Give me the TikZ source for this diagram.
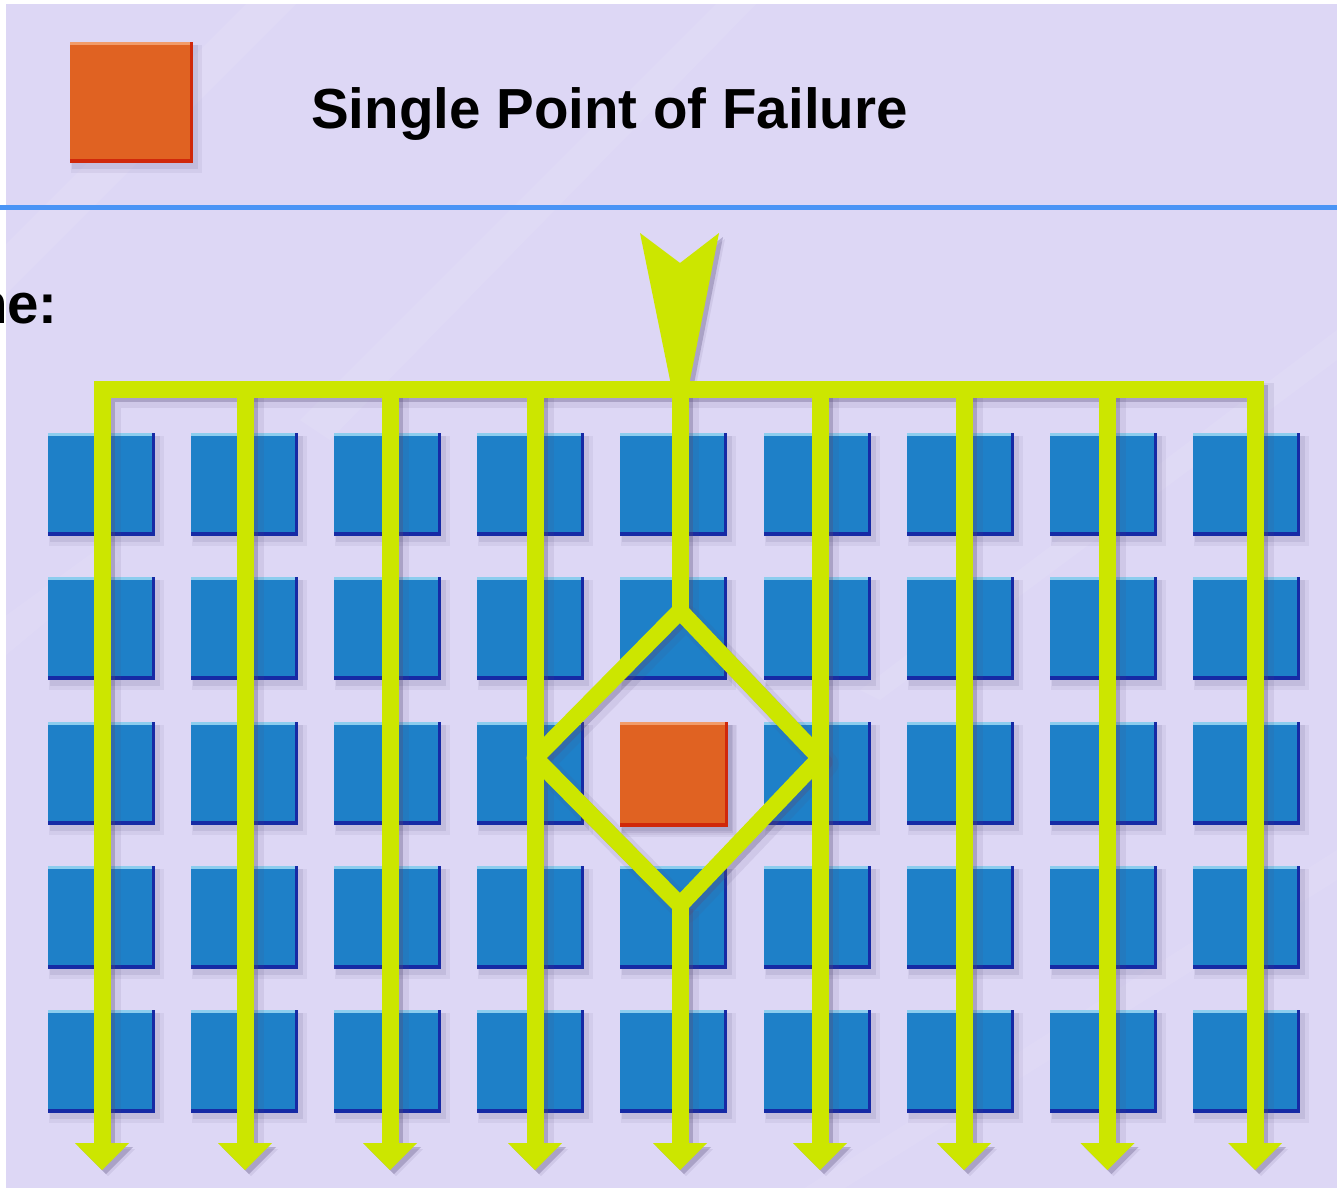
\documentclass[tikz,border=0pt]{standalone}
\usepackage{fontspec}
\setmainfont{Liberation Sans}
\definecolor{bgc}{RGB}{221,215,245}
\definecolor{ruleblue}{RGB}{74,148,245}
\definecolor{sqblue}{RGB}{30,128,200}
\definecolor{sqlight}{RGB}{140,205,238}
\definecolor{sqdark}{RGB}{22,42,165}
\definecolor{orng}{RGB}{224,98,34}
\definecolor{orlight}{RGB}{242,155,105}
\definecolor{ordark}{RGB}{208,40,10}
\definecolor{lime}{RGB}{204,230,0}
\definecolor{shadowc}{RGB}{85,75,120}
\tikzset{
  pics/tile/.style n args={5}{code={
    \fill[shadowc,opacity=0.08] (1,3) rectangle (#4+9,#5+10);
    \fill[shadowc,opacity=0.12] (2,3) rectangle (#4+5,#5+6);
    \fill[#3] (0,0) rectangle (#4,#5);
    \fill[#1] (0,0) rectangle (#4-3,#5-4);
    \fill[#2] (0,0) rectangle (#4-3,2.5);
  }},
  wire/.style={draw=lime,line width=17,line join=round},
  wirefill/.style={fill=lime},
  wshadow/.style={draw=shadowc,opacity=0.3,line width=17,line join=round},
  wshadowfill/.style={fill=shadowc,opacity=0.3},
  wblur/.style={draw=shadowc,opacity=0.1,line width=25,line join=round},
  wblurfill/.style={fill=shadowc,opacity=0.1},
  bigtext/.style={font=\fontsize{56.5}{60}\selectfont\bfseries,inner sep=0pt,text=black},
}
\newcommand\wirenet[2]{%
  \draw[#1,line join=miter] (B1) -- (T1) -- (T9) -- (B9);
  \foreach \k in {2,3,4,6,7,8} {\draw[#1] (T\k) -- (B\k);}
  \draw[#1] (T5) -- (Dt);
  \draw[#1] (Dt) -- (Dl) -- (Db) -- (Dr) -- cycle;
  \draw[#1] (Db) -- (B5);
  \foreach \k in {1,...,9} {\fill[#2] ([xshift=-27pt]B\k) -- ([xshift=27pt]B\k) -- (P\k) -- cycle;}
  \fill[#2] (A1) -- (An) -- (A2) -- (Ar) -- (Al) -- cycle;
}
\begin{document}
\begin{tikzpicture}[x=1pt,y=-1pt]
\useasboundingbox (0,0) rectangle (1337,1191);
\fill[bgc] (0,0) rectangle (1337,1191);
% faint diagonal streaks of the background
\begin{scope}
  \clip (0,0) rectangle (1337,1191);
  \fill[white,opacity=0.09] (0,250) -- (0,300) -- (300,0) -- (250,0) -- cycle;
  \fill[white,opacity=0.08] (300,420) -- (330,440) -- (760,0) -- (720,0) -- cycle;
  \fill[white,opacity=0.08] (1337,330) -- (1337,360) -- (880,700) -- (860,690) -- cycle;
  \fill[white,opacity=0.07] (800,1191) -- (840,1191) -- (1337,880) -- (1337,850) -- cycle;
  \fill[white,opacity=0.07] (0,620) -- (0,660) -- (120,560) -- (110,540) -- cycle;
\end{scope}
% white page edges
\fill[white] (0,0) rectangle (6,1191);
\fill[white] (0,0) rectangle (1337,4);
\fill[white] (0,1188) rectangle (1337,1191);
% legend
\pic (legend) at (70,42) {tile={orng}{orlight}{ordark}{123}{121}};
\node[bigtext,anchor=base west] (title) at (311,128) {Single Point of Failure};
\coordinate (ruleL) at (0,207.5);
\coordinate (ruleR) at (1337,207.5);
\draw[ruleblue,line width=4.5] (ruleL) -- (ruleR);
\node[bigtext,anchor=base east] (cut) at (58,323) {ne:};
% grid of blocks
\foreach \i in {0,...,8} {
  \foreach \j/\yy in {0/433,1/577,2/722,3/866,4/1010} {
    \pic (sq\i\j) at ({48+143.1*\i},\yy) {tile={sqblue}{sqlight}{sqdark}{107}{103}};
  }
}
\pic (spof) at (620.4,722) {tile={orng}{orlight}{ordark}{108}{105}};
% wire coordinates
\foreach \k/\xx in {1/102,2/245,3/390,4/535,5/680,6/820,7/964,8/1107.5,9/1255} {
  \coordinate (T\k) at (\xx,389);
  \coordinate (B\k) at (\xx,1143);
  \coordinate (P\k) at (\xx,1170);
}
\coordinate (Dt) at (680,611);
\coordinate (Dl) at (535,758);
\coordinate (Dr) at (820,758);
\coordinate (Db) at (680,905);
\coordinate (A1) at (640,233);
\coordinate (An) at (680,263);
\coordinate (A2) at (719,233);
\coordinate (Ar) at (689,385);
\coordinate (Al) at (671,385);
% shadows
\begin{scope}[transform canvas={shift={(6,6)}}]
  \wirenet{wblur}{wblurfill}
\end{scope}
\begin{scope}[transform canvas={shift={(4,4)}}]
  \wirenet{wshadow}{wshadowfill}
\end{scope}
% wires
\wirenet{wire}{wirefill}
\end{tikzpicture}
\end{document}
